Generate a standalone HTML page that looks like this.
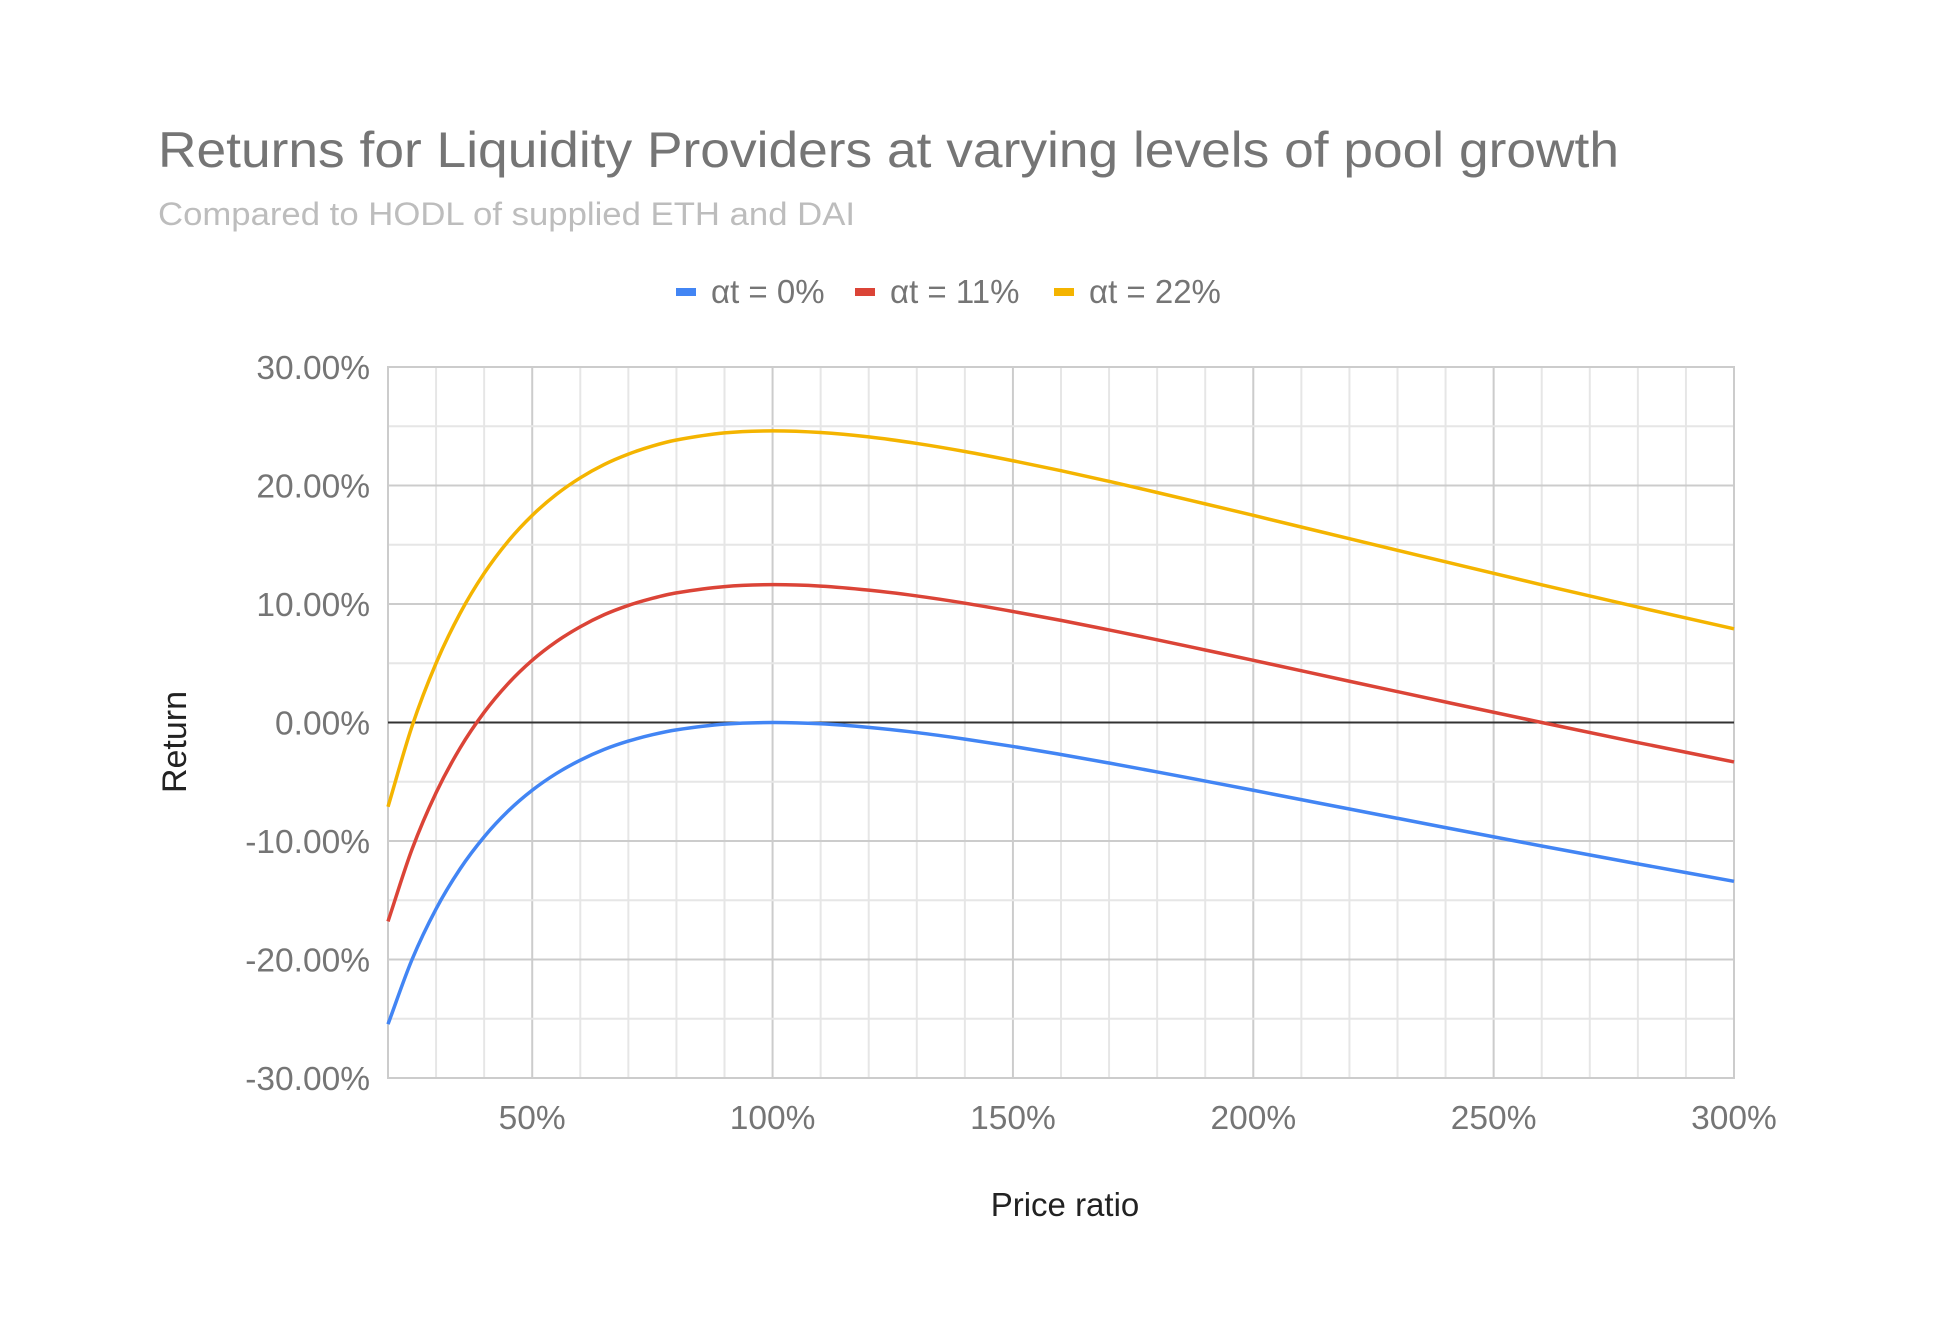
<!DOCTYPE html>
<html><head><meta charset="utf-8"><style>
html,body{margin:0;padding:0;background:#fff;}
svg{display:block;font-family:"Liberation Sans",Arial,sans-serif;}
</style></head><body>
<svg id="chart" width="1936" height="1320" viewBox="0 0 1936 1320">
<rect width="1936" height="1320" fill="#fff"/>
<text x="158" y="167" font-size="50" fill="#757575" textLength="1461" lengthAdjust="spacingAndGlyphs">Returns for Liquidity Providers at varying levels of pool growth</text>
<text x="158" y="225" font-size="32" fill="#bdbdbd" textLength="697" lengthAdjust="spacingAndGlyphs">Compared to HODL of supplied ETH and DAI</text>
<g id="legend"></g>
<g id="grid"></g>
<g id="yticks"></g>
<g id="xticks"></g>
<g id="series"></g>
<text x="1065" y="1216" font-size="33" fill="#222" text-anchor="middle">Price ratio</text>
<text x="0" y="0" font-size="34" fill="#222" text-anchor="middle" transform="translate(186,742) rotate(-90)">Return</text>
</svg>
<script>
const xValues = [20,25,30,35,40,45,50,55,60,65,70,75,80,90,100,110,120,130,140,150,160,170,180,190,200,220,240,260,280,300];
const seriesBlue = [-25.46,-20.00,-15.73,-12.35,-9.65,-7.47,-5.72,-4.31,-3.18,-2.27,-1.57,-1.03,-0.62,-0.14,0,-0.11,-0.41,-0.85,-1.40,-2.02,-2.70,-3.42,-4.17,-4.94,-5.72,-7.30,-8.87,-10.42,-11.93,-13.40];
const seriesRed = [-16.79,-10.70,-5.93,-2.15,0.86,3.29,5.25,6.82,8.08,9.10,9.88,10.48,10.94,11.47,11.63,11.51,11.17,10.68,10.07,9.37,8.62,7.81,6.98,6.12,5.25,3.48,1.73,0.00,-1.69,-3.33];
const seriesYellow = [-7.11,-0.31,5.01,9.22,12.59,15.30,17.48,19.24,20.65,21.78,22.65,23.33,23.84,24.44,24.61,24.47,24.10,23.55,22.87,22.09,21.25,20.35,19.41,18.45,17.48,15.51,13.56,11.62,9.74,7.91];
const seriesLabels = ["αt = 0%","αt = 11%","αt = 22%"];
const yTickValues = [-30,-20,-10,0,10,20,30];
const yTickLabels = ["-30.00%","-20.00%","-10.00%","0.00%","10.00%","20.00%","30.00%"];
const xTickValues = [50,100,150,200,250,300];
const xTickLabels = ["50%","100%","150%","200%","250%","300%"];

const NS="http://www.w3.org/2000/svg";
const L=388,R=1734,T=367,B=1078,xMin=20,xMax=300,yMin=-30,yMax=30;
const sx=v=>L+(v-xMin)/(xMax-xMin)*(R-L);
const sy=v=>B-(v-yMin)/(yMax-yMin)*(B-T);
function mk(tag,attrs,parent){const e=document.createElementNS(NS,tag);for(const k in attrs)e.setAttribute(k,attrs[k]);parent.appendChild(e);return e;}

const grid=document.getElementById('grid');
for(let v=30;v<=290;v+=10){
  const major=v%50===0;
  const l=mk('line',{x1:sx(v),x2:sx(v),y1:T,y2:B,stroke:major?'#cccccc':'#e6e6e6','stroke-width':2},grid);
  
  
}
for(let v=-25;v<=30;v+=5){
  if(v===0)continue;
  const major=v%10===0;
  const l=mk('line',{x1:L,x2:R,y1:sy(v),y2:sy(v),stroke:major?'#cccccc':'#e6e6e6','stroke-width':2},grid);
  
  
}
const fr=mk('rect',{x:L,y:T,width:R-L,height:B-T,fill:'none',stroke:'#cccccc','stroke-width':2},grid);



const yt=document.getElementById('yticks');
yTickValues.forEach((v,i)=>{
  const t=mk('text',{x:370,y:sy(v)+12,'font-size':33.5,fill:'#757575','text-anchor':'end'},yt);
  t.textContent=yTickLabels[i];
  
  
});
const xt=document.getElementById('xticks');
xTickValues.forEach((v,i)=>{
  const t=mk('text',{x:sx(v),y:1129,'font-size':33.5,fill:'#757575','text-anchor':'middle'},xt);
  t.textContent=xTickLabels[i];
  
  
});

const sg=document.getElementById('series');
const colors=['#4285f4','#db4437','#f4b400'];
const allSeries=[seriesBlue,seriesRed,seriesYellow];
function pathFor(ys){
  const p=xValues.map((x,i)=>[sx(x),sy(ys[i])]);
  const n=p.length;
  const m=p.map((_,i)=>{
    const a=p[Math.max(0,i-1)],b=p[Math.min(n-1,i+1)];
    return (b[1]-a[1])/(b[0]-a[0]);
  });
  let d='M'+p[0][0].toFixed(2)+','+p[0][1].toFixed(2);
  for(let i=0;i<n-1;i++){
    const dx=(p[i+1][0]-p[i][0])/3;
    d+=' C'+(p[i][0]+dx).toFixed(2)+','+(p[i][1]+m[i]*dx).toFixed(2)+' '+(p[i+1][0]-dx).toFixed(2)+','+(p[i+1][1]-m[i+1]*dx).toFixed(2)+' '+p[i+1][0].toFixed(2)+','+p[i+1][1].toFixed(2);
  }
  return d;
}
const zl=mk('line',{x1:L,x2:R,y1:sy(0),y2:sy(0),stroke:'#333','stroke-width':2},sg);


allSeries.forEach((ys,i)=>{
  const pth=mk('path',{d:pathFor(ys),fill:'none',stroke:colors[i],'stroke-width':3.5,'stroke-linejoin':'round'},sg);
  
  
});

const lg=document.getElementById('legend');
const legendX=[676,855,1054];
seriesLabels.forEach((lab,i)=>{
  const g=mk('g',{},lg);
  
  
  mk('rect',{x:legendX[i],y:288,width:20,height:8,fill:colors[i]},g);
  const t=mk('text',{x:legendX[i]+35,y:303,'font-size':33,fill:'#757575'},g);
  t.textContent=lab;
});
</script>
</body></html>
